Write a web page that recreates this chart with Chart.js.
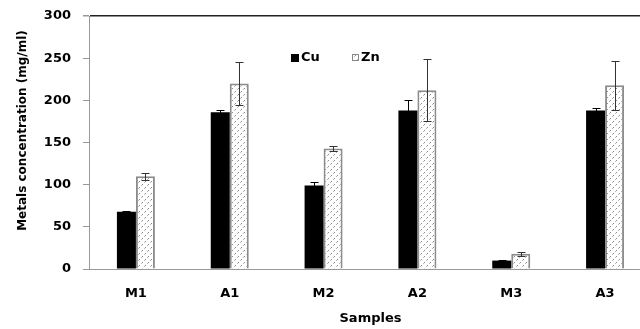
<!DOCTYPE html>
<html>
<head>
<meta charset="utf-8">
<script src="https://cdn.jsdelivr.net/npm/chart.js@4"></script>
<style>
  html, body { margin: 0; padding: 0; background: #fff; overflow: hidden; }
  #wrap { width: 655px; height: 329px; }
</style>
</head>
<body>
<div id="wrap"><canvas id="chart" width="655" height="329"></canvas></div>
<script>
const samples = ["M1", "A1", "M2", "A2", "M3", "A3"];
const cuValues = [68, 186, 99, 188, 10, 188];
const cuErrors = [1, 2, 4, 12, 1, 3];
const znValues = [110, 220, 143, 212, 18, 218];
const znErrors = [4, 25, 3, 37, 2, 29];
const yTicks = [0, 50, 100, 150, 200, 250, 300];

const FONT = "'DejaVu Sans', sans-serif";

// dotted fill used for the Zn bars
function makePattern() {
    const c = document.createElement("canvas");
    c.width = 6;
    c.height = 6;
    const g = c.getContext("2d");
    g.fillStyle = "#fff";
    g.fillRect(0, 0, 6, 6);
    g.fillStyle = "#8a8a8a";
    g.fillRect(1, 1, 1, 1);
    g.fillRect(4, 4, 1, 1);
    g.fillStyle = "#bbb";
    g.fillRect(0, 2, 1, 1);
    g.fillRect(3, 5, 1, 1);
    return g.createPattern(c, "repeat");
}
const znFill = makePattern();

const errorBars = {
    id: "errorBars",
    afterDatasetsDraw(chart) {
        const ctx = chart.ctx;
        const y = chart.scales.y;
        const errs = [cuErrors, znErrors];
        const cols = ["#000", "#333"];
        chart.data.datasets.forEach((ds, di) => {
            const meta = chart.getDatasetMeta(di);
            meta.data.forEach((bar, i) => {
                const v = ds.data[i], e = errs[di][i];
                const top = Math.round(y.getPixelForValue(v + e)) + 0.5;
                const bot = Math.round(y.getPixelForValue(v - e)) + 0.5;
                const x = Math.round(bar.x) + 0.5;
                ctx.save();
                ctx.strokeStyle = cols[di];
                ctx.lineWidth = 1;
                ctx.beginPath();
                ctx.moveTo(x, top);
                ctx.lineTo(x, bot);
                ctx.moveTo(x - 4, top);
                ctx.lineTo(x + 4, top);
                ctx.moveTo(x - 4, bot);
                ctx.lineTo(x + 4, bot);
                ctx.stroke();
                ctx.restore();
            });
        });
    }
};

// legend inside the plot and the y title (off-centre in the original)
const extras = {
    id: "extras",
    afterDraw(chart) {
        const ctx = chart.ctx;
        ctx.save();
        ctx.fillStyle = "#000";
        ctx.fillRect(291, 54, 8, 8);
        ctx.fillStyle = znFill;
        ctx.fillRect(352, 54, 7, 7);
        ctx.strokeStyle = "#888";
        ctx.lineWidth = 1;
        ctx.strokeRect(352.5, 54.5, 6, 6);
        ctx.fillStyle = "#000";
        ctx.font = "bold 13px " + FONT;
        ctx.textBaseline = "middle";
        ctx.fillText("Cu", 301, 58);
        ctx.fillText("Zn", 361, 58);

        ctx.translate(22.5, 130.5);
        ctx.rotate(-Math.PI / 2);
        ctx.textAlign = "center";
        ctx.font = "bold 12px " + FONT;
        ctx.fillText("Metals concentration (mg/ml)", 0, 0);
        ctx.restore();
    }
};

new Chart(document.getElementById("chart"), {
    type: "bar",
    data: {
        labels: samples,
        datasets: [
            {
                label: "Cu",
                data: cuValues,
                backgroundColor: "#000",
                borderWidth: 0,
                barPercentage: 1,
                categoryPercentage: 0.405
            },
            {
                label: "Zn",
                data: znValues,
                backgroundColor: znFill,
                borderColor: "#8c8c8c",
                borderWidth: 2,
                barPercentage: 1,
                categoryPercentage: 0.405
            }
        ]
    },
    options: {
        responsive: false,
        animation: false,
        layout: { padding: { left: 0, right: 3, top: 16, bottom: 0 } },
        plugins: { legend: { display: false }, tooltip: { enabled: false } },
        scales: {
            x: {
                afterFit: (s) => { s.height = 60; },
                grid: { display: false, drawTicks: false },
                border: { display: true, color: "#999", width: 1 },
                ticks: { color: "#000", font: { family: FONT, weight: "bold", size: 13 }, padding: 16.5 },
                title: {
                    display: true, text: "Samples", color: "#000",
                    font: { family: FONT, weight: "bold", size: 13 },
                    padding: { top: 0, bottom: 3 }
                }
            },
            y: {
                min: 0,
                max: 300,
                afterFit: (s) => { s.width = 89; s.paddingTop = 0; s.paddingBottom = 0; },
                afterBuildTicks: (s) => { s.ticks = yTicks.map((v) => ({ value: v })); },
                grid: {
                    color: (c) => (c.tick && c.tick.value === 300 ? "#222" : "rgba(0,0,0,0)"),
                    lineWidth: (c) => (c.tick && c.tick.value === 300 ? 1.5 : 1),
                    tickColor: "#999",
                    tickLength: 6
                },
                border: { display: true, color: "#999", width: 1 },
                ticks: { color: "#000", font: { family: FONT, weight: "bold", size: 13 }, padding: 12 }
            }
        }
    },
    plugins: [errorBars, extras]
});
</script>
</body>
</html>
